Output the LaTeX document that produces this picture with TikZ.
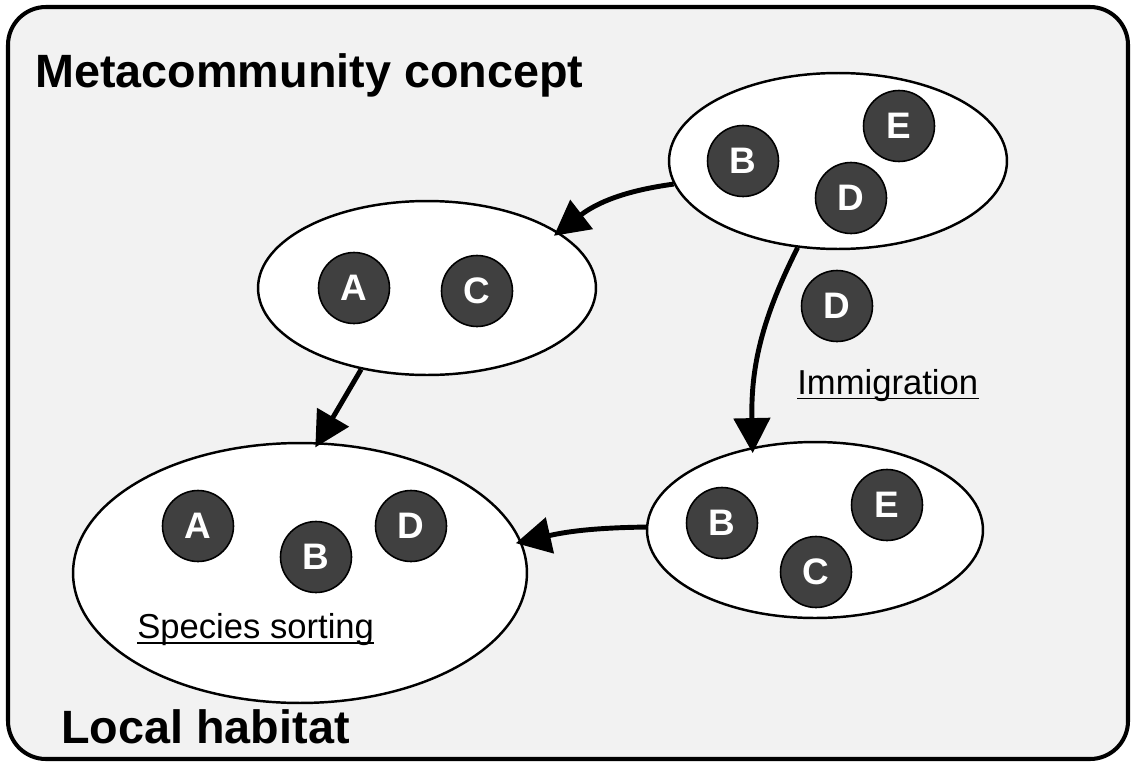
\documentclass[tikz,border=0pt]{standalone}
\usepackage{fontspec}
\setmainfont{Liberation Sans}
\usepackage{tikz}
\usetikzlibrary{arrows.meta,shapes.geometric}
\definecolor{mcback}{HTML}{F2F2F2}
\definecolor{mcdark}{HTML}{404040}
\tikzset{
  mchabitat/.style={ellipse, draw=black, fill=white, line width=1.4pt, inner sep=0pt},
  mcspecies/.style={circle, draw=black, fill=mcdark, line width=0.9pt, minimum size=1.42cm,
    inner sep=0pt, text=white, font=\fontsize{21pt}{24pt}\selectfont\bfseries},
  mcarrow/.style={-{Triangle[length=0.7cm,width=0.72cm]}, line width=2.8pt, draw=black,
    shorten >=-0.12cm},
  mctitle/.style={anchor=base west, inner sep=0pt, font=\fontsize{26.6pt}{30pt}\selectfont\bfseries},
  mclabel/.style={anchor=base west, inner sep=0pt, font=\fontsize{19.7pt}{22pt}\selectfont}
}
\begin{document}
\begin{tikzpicture}[x=0.02cm,y=0.02cm]
  \useasboundingbox (0,0) rectangle (1132,-764);
  \draw[line width=2.3pt, fill=mcback, rounded corners=0.76cm] (8,-7) rectangle (1128,-759);
  % habitats
  \node[mchabitat, minimum width=6.76cm, minimum height=3.52cm] (pool) at (838,-161) {};
  \node[mchabitat, minimum width=6.76cm, minimum height=3.48cm] (upper) at (427,-288) {};
  \node[mchabitat, minimum width=9.08cm, minimum height=5.2cm] (local) at (300,-573) {};
  \node[mchabitat, minimum width=6.72cm, minimum height=3.52cm] (lower) at (815,-530) {};
  % species
  \foreach \n/\x/\y/\lab in {pB/743/161/B, pE/899/126/E, pD/851/198/D,
      uA/354/288/A, uC/477/291/C, mD/837/306/D,
      lA/198/526/A, lB/316/557/B, lD/411/526/D,
      rB/722/523/B, rE/887/505/E, rC/816/572/C} {
    \node[mcspecies] (\n) at (\x,-\y) {\lab};
  }
  % titles and labels
  \node[mctitle] (meta) at (35,-87) {Metacommunity concept};
  \node[mctitle] (habitat) at (61,-743) {Local habitat};
  \node[mclabel] (immig) at (797,-394) {Immigration};
  \node[mclabel] (sorting) at (137,-638) {Species sorting};
  \draw[line width=1.1pt] ([yshift=-0.09cm]immig.base west) -- ([yshift=-0.09cm]immig.base east);
  \draw[line width=1.1pt] ([yshift=-0.1cm]sorting.base west) -- ([yshift=-0.1cm]sorting.base east);
  % dispersal
  \draw[mcarrow] (pool.188) to[bend right=15] (upper.23);
  \draw[mcarrow] (upper.231) -- (local.82);
  \draw[mcarrow] (pool.245) to[bend right=14] (lower.127);
  \draw[mcarrow] (lower.179) to[bend right=6] (local.8);
\end{tikzpicture}
\end{document}
